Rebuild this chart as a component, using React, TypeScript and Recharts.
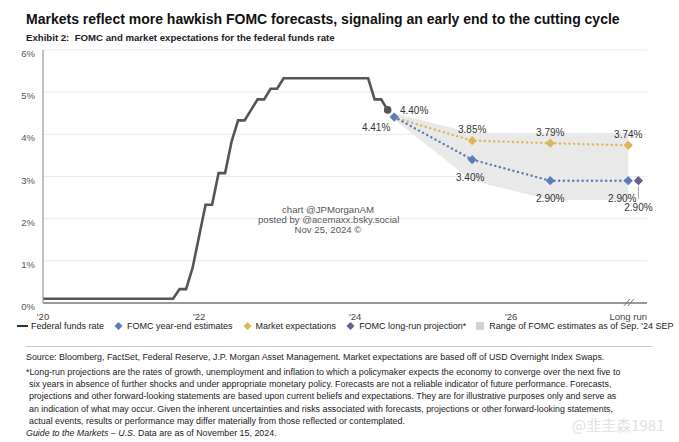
import React from "react";
import {
  ComposedChart,
  Line,
  Area,
  XAxis,
  YAxis,
  CartesianGrid,
  ReferenceDot,
  LabelList,
} from "recharts";

// ---------- DATA ----------
const ffStartYear = 2020;
const ffStartMonth = 6; // month-end Jun 2020
const fedFundsRate = [
  0.1, 0.1, 0.1, 0.1, 0.1, 0.1, 0.1,
  0.1, 0.1, 0.1, 0.1, 0.1, 0.1, 0.1, 0.1, 0.1, 0.1, 0.1, 0.1,
  0.1, 0.1, 0.33, 0.33, 0.83, 1.58, 2.33, 2.33, 3.08, 3.08, 3.83, 4.33,
  4.33, 4.58, 4.83, 4.83, 5.08, 5.08, 5.33, 5.33, 5.33, 5.33, 5.33, 5.33,
  5.33, 5.33, 5.33, 5.33, 5.33, 5.33, 5.33, 5.33, 4.83, 4.83, 4.58,
];

const forecastCategories = ["2024", "2025", "2026", "Long run"];
const forecastX = [2025.0, 2026.0, 2027.0, 2028.0];
const fomcYearEnd = [4.41, 3.4, 2.9, 2.9];
const marketExpect = [4.4, 3.85, 3.79, 3.74];
const rangeLow = [4.35, 2.9, 2.44, 2.44];
const rangeHigh = [4.5, 4.03, 4.03, 4.03];
const longRunX = 2028.13;
const longRunProjection = 2.9;

const xTicks = [2020.5, 2022.5, 2024.5, 2026.5, 2028.0];
const xTickLabels = ["'20", "'22", "'24", "'26", "Long run"];
const yTicks = [0, 1, 2, 3, 4, 5, 6];

// ---------- BUILD ----------
const ffData = fedFundsRate.map((v, i) => ({
  t: ffStartYear + (ffStartMonth + i) / 12,
  rate: v,
}));
const lastFF = ffData[ffData.length - 1];

const fomcData = forecastCategories.map((c, i) => ({
  cat: c,
  t: forecastX[i],
  v: fomcYearEnd[i],
  label: fomcYearEnd[i].toFixed(2) + "%",
}));
const marketData = forecastCategories.map((c, i) => ({
  cat: c,
  t: forecastX[i],
  v: marketExpect[i],
  label: marketExpect[i].toFixed(2) + "%",
}));
const rangeData = forecastCategories.map((c, i) => ({
  cat: c,
  t: forecastX[i],
  r: [rangeLow[i], rangeHigh[i]],
}));

const BLUE = "#5b7db5";
const YELLOW = "#dcb659";
const PURPLE = "#6b5b8f";
const FF = "#555555";
const RANGE = "#e9e9e9";
const FONT = "'Liberation Sans', Arial, Helvetica, sans-serif";

const Diamond = (color: string, size = 4.6, hideFirst = false) => (props: any) => {
  const { cx, cy, index } = props;
  if (cx == null || cy == null) return <g />;
  if (hideFirst && index === 0) return <g key={"d" + index} />;
  const s = size;
  return (
    <path
      key={"d" + index}
      d={`M${cx},${cy - s} L${cx + s},${cy} L${cx},${cy + s} L${cx - s},${cy} Z`}
      fill={color}
      stroke="none"
    />
  );
};

const fomcLabelOffsets = [
  { dx: -18, dy: 10 },
  { dx: -2, dy: 18 },
  { dx: 0, dy: 18 },
  { dx: -6, dy: 18 },
];
const marketLabelOffsets = [
  { dx: 20, dy: -7 },
  { dx: 0, dy: -11 },
  { dx: 0, dy: -11 },
  { dx: 0, dy: -11 },
];

const makeLabel = (offsets: { dx: number; dy: number }[]) => (props: any) => {
  const { x, y, value, index } = props;
  const o = offsets[index] || { dx: 0, dy: 0 };
  return (
    <text
      key={"l" + index}
      x={x + o.dx}
      y={y + o.dy}
      textAnchor="middle"
      dominantBaseline="central"
      fontSize={10}
      fontFamily={FONT}
      fill="#333"
    >
      {value}
    </text>
  );
};

const XTick = (props: any) => {
  const { x, y, payload } = props;
  const idx = xTicks.indexOf(payload.value);
  return (
    <text
      x={x}
      y={y + 9}
      textAnchor="middle"
      fontSize={9.5}
      fontFamily={FONT}
      fill="#444"
    >
      {xTickLabels[idx] ?? ""}
    </text>
  );
};

const YTick = (props: any) => {
  const { x, y, payload } = props;
  return (
    <text
      x={x}
      y={y + 7}
      textAnchor="end"
      fontSize={9.5}
      fontFamily={FONT}
      fill="#555"
    >
      {payload.value + "%"}
    </text>
  );
};

const BreakMark = (props: any) => {
  const { cx, cy } = props;
  if (cx == null) return <g />;
  return (
    <g stroke="#777" strokeWidth={1}>
      <line x1={cx - 6} y1={cy + 3} x2={cx} y2={cy - 4} />
      <line x1={cx - 2} y1={cy + 3} x2={cx + 4} y2={cy - 4} />
    </g>
  );
};

const PurpleLabel = (props: any) => {
  const { cx, cy } = props;
  if (cx == null) return <g />;
  return (
    <g>
      <line x1={cx} y1={cy + 6} x2={cx} y2={cy + 18} stroke="#888" strokeWidth={0.8} />
      <path
        d={`M${cx},${cy - 4.6} L${cx + 4.6},${cy} L${cx},${cy + 4.6} L${cx - 4.6},${cy} Z`}
        fill={PURPLE}
      />
      <text
        x={cx}
        y={cy + 27}
        textAnchor="middle"
        dominantBaseline="central"
        fontSize={10}
        fontFamily={FONT}
        fill="#333"
      >
        {longRunProjection.toFixed(2) + "%"}
      </text>
    </g>
  );
};

const EndDot = (props: any) => {
  const { cx, cy } = props;
  if (cx == null) return <g />;
  return <circle cx={cx} cy={cy} r={3.8} fill={FF} />;
};

const legendItems = [
  { kind: "line", color: "#333", text: "Federal funds rate" },
  { kind: "diamond", color: BLUE, text: "FOMC year-end estimates" },
  { kind: "diamond", color: YELLOW, text: "Market expectations" },
  { kind: "diamond", color: PURPLE, text: "FOMC long-run projection*" },
  { kind: "square", color: "#d4d4d4", text: "Range of FOMC estimates as of Sep. '24 SEP" },
];

const footnoteLines = [
  "*Long-run projections are the rates of growth, unemployment and inflation to which a policymaker expects the economy to converge over the next five to",
  "six years in absence of further shocks and under appropriate monetary policy. Forecasts are not a reliable indicator of future performance. Forecasts,",
  "projections and other forward-looking statements are based upon current beliefs and expectations. They are for illustrative purposes only and serve as",
  "an indication of what may occur. Given the inherent uncertainties and risks associated with forecasts, projections or other forward-looking statements,",
  "actual events, results or performance may differ materially from those reflected or contemplated.",
];

export default function App() {
  const abs = (top: number, left: number, extra: React.CSSProperties = {}) =>
    ({ position: "absolute", top, left, whiteSpace: "nowrap", lineHeight: 1.15, ...extra } as React.CSSProperties);

  return (
    <div
      style={{
        position: "fixed",
        top: 0,
        left: 0,
        width: 679,
        height: 442,
        background: "#fff",
        fontFamily: FONT,
        overflow: "hidden",
      }}
    >
      <div style={abs(11, 26, { fontSize: 14, fontWeight: 700, color: "#111" })}>
        Markets reflect more hawkish FOMC forecasts, signaling an early end to the cutting cycle
      </div>
      <div style={abs(32, 26, { fontSize: 9.65, fontWeight: 700, color: "#222" })}>
        Exhibit 2:&nbsp; FOMC and market expectations for the federal funds rate
      </div>

      <div style={abs(0, 0)}>
        <ComposedChart
          width={679}
          height={330}
          margin={{ top: 50, right: 32, left: 8, bottom: 7 }}
        >
          <CartesianGrid vertical={false} stroke="#ebebeb" strokeWidth={1} />
          <XAxis
            dataKey="t"
            type="number"
            domain={[2020.5, 2028.24]}
            ticks={xTicks}
            tick={<XTick />}
            tickLine={false}
            axisLine={{ stroke: "#999", strokeWidth: 2 }}
            height={20}
            allowDataOverflow
            interval={0}
          />
          <YAxis
            type="number"
            domain={[0, 6]}
            ticks={yTicks}
            tick={<YTick />}
            tickLine={false}
            axisLine={{ stroke: "#999", strokeWidth: 1.2 }}
            width={35}
            interval={0}
          />
          <Area
            data={rangeData}
            dataKey="r"
            type="linear"
            stroke="none"
            fill={RANGE}
            fillOpacity={1}
            isAnimationActive={false}
            activeDot={false}
          />
          <Line
            data={ffData}
            dataKey="rate"
            type="linear"
            stroke={FF}
            strokeWidth={2.6}
            dot={false}
            activeDot={false}
            isAnimationActive={false}
          />
          <Line
            data={marketData}
            dataKey="v"
            type="linear"
            stroke={YELLOW}
            strokeWidth={2.4}
            strokeDasharray="0.1 4.6"
            strokeLinecap="round"
            dot={Diamond(YELLOW, 4.6, true)}
            activeDot={false}
            isAnimationActive={false}
          >
            <LabelList dataKey="label" content={makeLabel(marketLabelOffsets)} />
          </Line>
          <Line
            data={fomcData}
            dataKey="v"
            type="linear"
            stroke={BLUE}
            strokeWidth={2.4}
            strokeDasharray="0.1 4.6"
            strokeLinecap="round"
            dot={Diamond(BLUE)}
            activeDot={false}
            isAnimationActive={false}
          >
            <LabelList dataKey="label" content={makeLabel(fomcLabelOffsets)} />
          </Line>
          <ReferenceDot
            x={lastFF.t}
            y={lastFF.rate}
            shape={EndDot}
            ifOverflow="visible"
          />
          <ReferenceDot
            x={longRunX}
            y={longRunProjection}
            shape={PurpleLabel}
            ifOverflow="visible"
          />
          <ReferenceDot x={2028.02} y={0} shape={BreakMark} ifOverflow="visible" />
        </ComposedChart>
      </div>

      {/* watermark */}
      <div
        style={abs(205, 258, {
          width: 140,
          textAlign: "center",
          fontSize: 9.6,
          lineHeight: "10px",
          color: "#555",
        })}
      >
        chart @JPMorganAM
        <br />
        posted by @acemaxx.bsky.social
        <br />
        Nov 25, 2024 ©
      </div>

      {/* legend */}
      <div
        style={abs(321, 17, {
          display: "flex",
          alignItems: "center",
          fontSize: 9.0,
          color: "#222",
        })}
      >
        {legendItems.map((it, i) => (
          <div key={i} style={{ display: "flex", alignItems: "center", marginRight: 9 }}>
            <svg width={11} height={10} style={{ marginRight: 3 }}>
              {it.kind === "line" && (
                <line x1={0} y1={5} x2={11} y2={5} stroke={it.color} strokeWidth={2} />
              )}
              {it.kind === "diamond" && (
                <path d="M5.5,1 L9.5,5 L5.5,9 L1.5,5 Z" fill={it.color} />
              )}
              {it.kind === "square" && <rect x={1} y={1} width={8} height={8} fill={it.color} />}
            </svg>
            <span>{it.text}</span>
          </div>
        ))}
      </div>

      <div style={abs(346, 26, { width: 626, height: 1, background: "#c8c8c8" })} />

      <div style={abs(352, 26, { fontSize: 8.9, color: "#222" })}>
        Source: Bloomberg, FactSet, Federal Reserve, J.P. Morgan Asset Management. Market
        expectations are based off of USD Overnight Index Swaps.
      </div>
      {footnoteLines.map((ln, i) => (
        <div
          key={i}
          style={abs(367 + i * 12.2, i === 0 ? 26 : 29, { fontSize: 8.85, color: "#222" })}
        >
          {ln}
        </div>
      ))}
      <div style={abs(428, 26, { fontSize: 8.9, color: "#222" })}>
        <i>Guide to the Markets – U.S.</i> Data are as of November 15, 2024.
      </div>
      <div
        style={abs(416, 572, {
          fontSize: 15,
          color: "#e2e2e2",
          fontFamily: "'Noto Sans CJK SC', sans-serif",
        })}
      >
        @韭圭森1981
      </div>
    </div>
  );
}
